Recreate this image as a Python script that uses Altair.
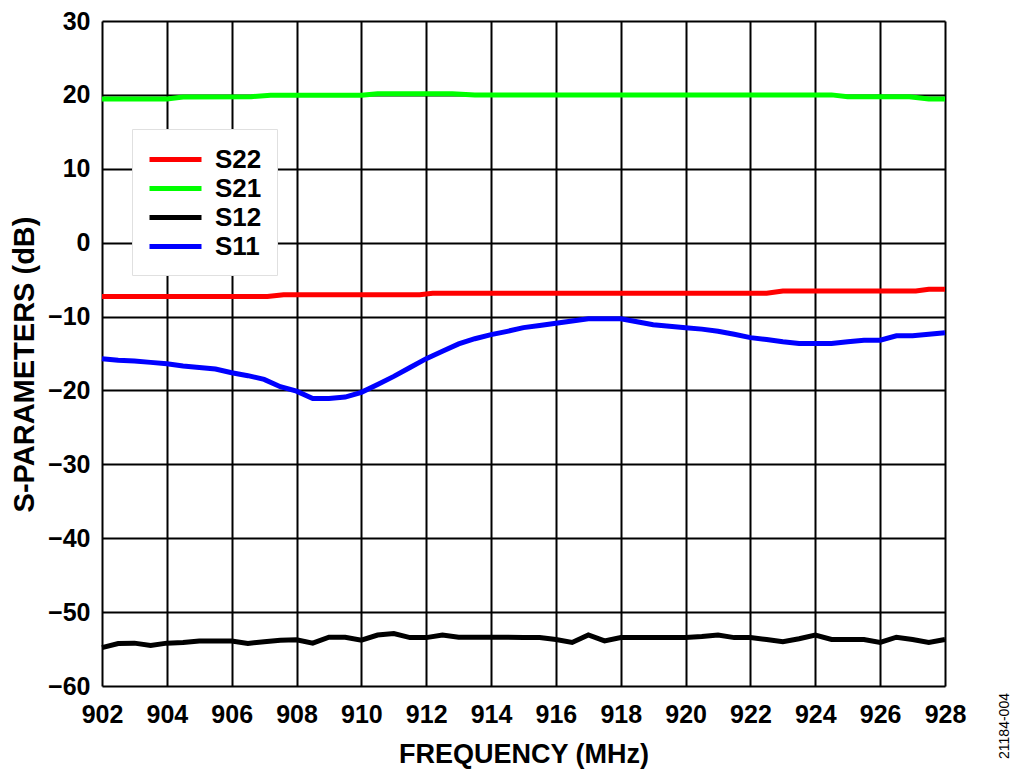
import altair as alt
import pandas as pd

# ---- data ----
freq_grid = [902 + 0.5 * i for i in range(53)]

s11 = [-15.7, -15.9, -16.0, -16.2, -16.4, -16.7, -16.9, -17.1, -17.6, -18.0,
       -18.5, -19.5, -20.1, -21.1, -21.1, -20.9, -20.25, -19.2, -18.1, -16.9,
       -15.7, -14.7, -13.7, -13.0, -12.45, -12.0, -11.5, -11.2, -10.9, -10.6,
       -10.3, -10.3, -10.3, -10.7, -11.1, -11.3, -11.5, -11.7, -12.0, -12.4,
       -12.85, -13.1, -13.4, -13.65, -13.65, -13.65, -13.4, -13.2, -13.2, -12.6,
       -12.6, -12.4, -12.2]

s12 = [-54.8, -54.25, -54.2, -54.5, -54.2, -54.1, -53.9, -53.9, -53.9, -54.25,
       -54.0, -53.8, -53.75, -54.2, -53.4, -53.4, -53.8, -53.1, -52.9, -53.45,
       -53.45, -53.1, -53.4, -53.4, -53.4, -53.4, -53.45, -53.45, -53.7, -54.1,
       -53.1, -53.9, -53.45, -53.45, -53.45, -53.45, -53.45, -53.3, -53.1, -53.45,
       -53.45, -53.7, -54.0, -53.6, -53.1, -53.7, -53.7, -53.7, -54.1, -53.4,
       -53.7, -54.1, -53.7]

s21_freq = [902, 904, 904.5, 906.6, 907.2, 910, 910.5, 912.8, 913.5, 924.5, 925, 926.9, 927.5, 928]
s21 = [19.45, 19.45, 19.7, 19.75, 19.95, 19.95, 20.15, 20.15, 20.0, 20.0, 19.75, 19.75, 19.45, 19.45]

s22_freq = [902, 907.1, 907.6, 911.8, 912.2, 922.5, 923, 927.1, 927.5, 928]
s22 = [-7.3, -7.3, -7.05, -7.05, -6.85, -6.85, -6.55, -6.55, -6.3, -6.3]

series_names = ["S22", "S21", "S12", "S11"]
series_colors = ["#ff0000", "#00ff00", "#000000", "#0000ff"]

x_ticks = list(range(902, 929, 2))
y_ticks = list(range(-60, 31, 10))

rows = []
for f, v in zip(freq_grid, s12):
    rows.append({"f": f, "v": v, "s": "S12"})
for f, v in zip(freq_grid, s11):
    rows.append({"f": f, "v": v, "s": "S11"})
for f, v in zip(s22_freq, s22):
    rows.append({"f": f, "v": v, "s": "S22"})
for f, v in zip(s21_freq, s21):
    rows.append({"f": f, "v": v, "s": "S21"})
df = pd.DataFrame(rows)

FONT = "Liberation Sans"

lines = alt.Chart(df).mark_line(strokeWidth=5, interpolate="linear").encode(
    x=alt.X("f:Q",
            scale=alt.Scale(domain=[902, 928], nice=False, zero=False),
            axis=alt.Axis(values=x_ticks, title="FREQUENCY (MHz)", format="d",
                          grid=True, gridColor="#000000", gridWidth=2, gridOpacity=1,
                          ticks=False, domain=False, labelFontSize=25,
                          labelFont=FONT, labelFontWeight="bold", labelColor="#000000",
                          labelPadding=16, titleFont=FONT, titleFontSize=27,
                          titleFontWeight="bold", titleColor="#000000", titlePadding=14,
                          labelFlush=False)),
    y=alt.Y("v:Q",
            scale=alt.Scale(domain=[-60, 30], nice=False, zero=False),
            axis=alt.Axis(values=y_ticks, title="S-PARAMETERS (dB)",
                          grid=True, gridColor="#000000", gridWidth=2, gridOpacity=1,
                          ticks=False, domain=False, labelFontSize=25,
                          labelFont=FONT, labelFontWeight="bold", labelColor="#000000",
                          labelPadding=12, titleFont=FONT, titleFontSize=29,
                          titleFontWeight="bold", titleColor="#000000", titlePadding=8,
                          titleY=343)),
    color=alt.Color("s:N",
                    scale=alt.Scale(domain=series_names, range=series_colors),
                    legend=alt.Legend(title=None, orient="none", legendX=30, legendY=108,
                                      symbolType="M-1,0H3", symbolSize=676,
                                      symbolStrokeWidth=5, labelFontSize=26,
                                      labelFont=FONT, labelFontWeight="bold",
                                      labelColor="#000000", labelOffset=37,
                                      padding=15, rowPadding=0, fillColor="#ffffff",
                                      strokeColor="#e0e0e0", cornerRadius=0)),
    order=alt.Order("f:Q"),
    detail="s:N",
)

note = alt.Chart(pd.DataFrame({"t": ["21184-004"]})).mark_text(
    angle=270, fontSize=14, font=FONT, color="#000000", align="center", baseline="middle"
).encode(text="t:N", x=alt.value(903), y=alt.value(705))

chart = alt.layer(lines, note).properties(
    width=843, height=665,
    autosize=alt.AutoSizeParams(type="none"),
    padding={"left": 94, "top": 13, "right": 70, "bottom": 84},
).configure_view(stroke="#000000", strokeWidth=3).configure(background="#ffffff")

chart.save("out.html", embed_options={"renderer": "svg", "actions": False})
